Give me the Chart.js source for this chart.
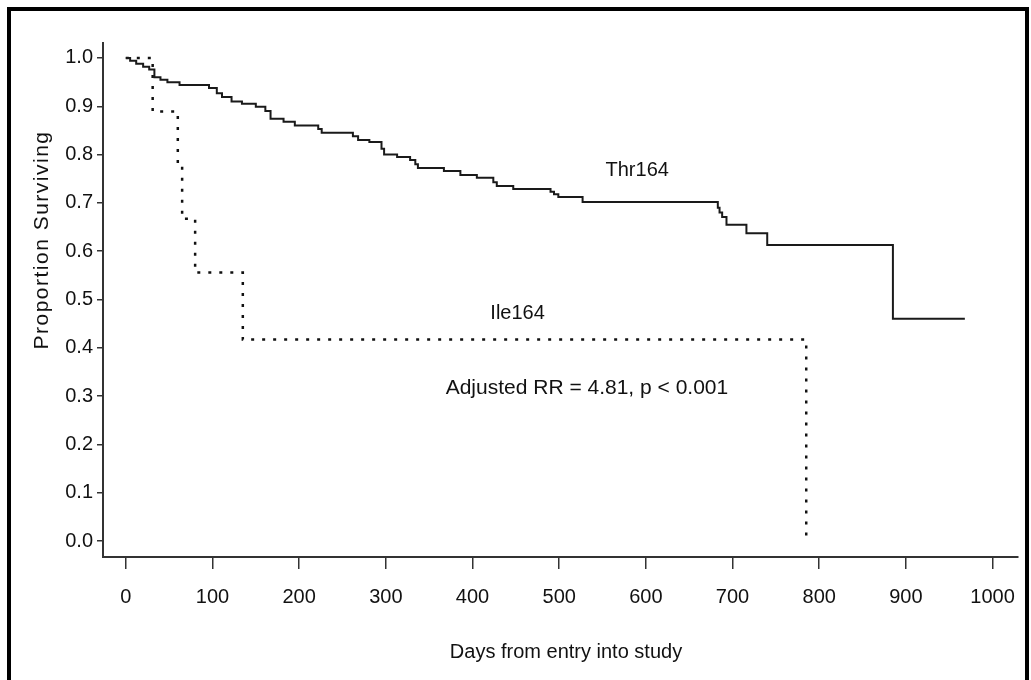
<!DOCTYPE html>
<html>
<head>
<meta charset="utf-8">
<script src="https://cdn.jsdelivr.net/npm/chart.js@4.4.0/dist/chart.umd.min.js"></script>
<style>
  html, body { margin: 0; padding: 0; background: #fff; }
  #wrap { width: 1031px; height: 680px; position: relative; }
</style>
</head>
<body>
<div id="wrap"><canvas id="km"></canvas></div>
<script>
// Kaplan-Meier steps: day of each drop and survival after it
const thrDays = [0, 5, 12, 20, 27, 33, 40, 48, 62, 96, 105, 111, 122, 134, 150, 161, 167, 182, 195, 222, 226,
  262, 268, 281, 295, 298, 313, 328, 334, 337, 367, 386, 405, 424, 428, 447, 490, 494, 499, 527,
  683, 685, 688, 693, 716, 740, 885, 968];
const thrSurv = [1.0, 0.994, 0.988, 0.982, 0.976, 0.960, 0.955, 0.950, 0.944, 0.938, 0.927, 0.919, 0.910, 0.905, 0.899, 0.890, 0.874, 0.868, 0.860, 0.853, 0.845,
  0.838, 0.830, 0.826, 0.812, 0.800, 0.795, 0.789, 0.780, 0.772, 0.766, 0.758, 0.752, 0.743, 0.735, 0.729, 0.723, 0.718, 0.712, 0.702,
  0.690, 0.680, 0.671, 0.655, 0.637, 0.613, 0.460, 0.460];

const ileDays = [0, 31, 60, 65, 80, 135, 785];
const ileSurv = [1.0, 0.889, 0.778, 0.667, 0.556, 0.417, 0.0];

const xTicks = [0, 100, 200, 300, 400, 500, 600, 700, 800, 900, 1000];
const yTicks = [0.0, 0.1, 0.2, 0.3, 0.4, 0.5, 0.6, 0.7, 0.8, 0.9, 1.0];

const groupNames = ["Thr164", "Ile164"];
const noteText = "Adjusted RR = 4.81, p < 0.001";
const xTitle = "Days from entry into study";
const yTitle = "Proportion Surviving";

const FONT = '"Liberation Sans", Arial, Helvetica, sans-serif';

const toPoints = (xs, ys) => xs.map((d, i) => ({ x: d, y: ys[i] }));

const decor = {
  id: 'decor',
  beforeDraw(chart) {
    const ctx = chart.ctx;
    ctx.save();
    ctx.fillStyle = '#fff';
    ctx.fillRect(0, 0, chart.width, chart.height);
    ctx.restore();
  },
  afterDraw(chart) {
    const { ctx, scales: { x, y } } = chart;
    ctx.save();
    // outer frame (open at the bottom, as in the scan)
    ctx.strokeStyle = '#000';
    ctx.lineWidth = 4;
    ctx.beginPath();
    ctx.moveTo(9, 700);
    ctx.lineTo(9, 9);
    ctx.lineTo(1027, 9);
    ctx.lineTo(1027, 700);
    ctx.stroke();

    ctx.fillStyle = '#111';
    ctx.textAlign = 'center';
    ctx.textBaseline = 'middle';
    ctx.font = '20px ' + FONT;
    ctx.fillText(groupNames[0], x.getPixelForValue(590), y.getPixelForValue(0.768));
    ctx.fillText(groupNames[1], x.getPixelForValue(452), y.getPixelForValue(0.472));
    ctx.font = '21px ' + FONT;
    ctx.fillText(noteText, x.getPixelForValue(532), y.getPixelForValue(0.317));

    ctx.font = '20px ' + FONT;
    ctx.fillText(xTitle, 566, 652);

    ctx.translate(42, 240);
    ctx.rotate(-Math.PI / 2);
    ctx.font = '21px ' + FONT;
    if ('letterSpacing' in ctx) ctx.letterSpacing = '1.5px';
    ctx.fillText(yTitle, 0, 0);
    ctx.restore();
  }
};

new Chart(document.getElementById('km'), {
  type: 'line',
  data: {
    datasets: [
      {
        label: groupNames[0],
        data: toPoints(thrDays, thrSurv),
        stepped: true,
        borderColor: '#1a1a1a',
        borderWidth: 2,
        pointRadius: 0,
        fill: false
      },
      {
        label: groupNames[1],
        data: toPoints(ileDays, ileSurv),
        stepped: true,
        borderColor: '#111',
        borderWidth: 2.5,
        borderDash: [3, 8],
        pointRadius: 0,
        fill: false
      }
    ]
  },
  options: {
    responsive: true,
    maintainAspectRatio: false,
    animation: false,
    devicePixelRatio: 1,
    layout: { padding: { left: 0, top: 43, right: 6, bottom: 0 } },
    plugins: { legend: { display: false }, tooltip: { enabled: false } },
    scales: {
      x: {
        type: 'linear',
        min: -26.3,
        max: 1028.7,
        afterBuildTicks: s => { s.ticks = xTicks.map(v => ({ value: v })); },
        afterFit: s => { s.height = 123; },
        border: { display: true, color: '#333', width: 2 },
        grid: { display: true, drawOnChartArea: false, drawTicks: true, tickLength: 12, color: '#333', lineWidth: 1.5 },
        ticks: { autoSkip: false, maxRotation: 0, padding: 16, color: '#111', font: { family: FONT, size: 20 },
          callback: v => String(v) }
      },
      y: {
        type: 'linear',
        min: -0.033,
        max: 1.031,
        afterBuildTicks: s => { s.ticks = yTicks.map(v => ({ value: v })); },
        afterFit: s => { s.width = 103; },
        border: { display: true, color: '#333', width: 2 },
        grid: { display: true, drawOnChartArea: false, drawTicks: true, tickLength: 6, color: '#333', lineWidth: 1.5 },
        ticks: { autoSkip: false, padding: 4, color: '#111', font: { family: FONT, size: 20 },
          callback: v => Number(v).toFixed(1) }
      }
    }
  },
  plugins: [decor]
});
</script>
</body>
</html>
